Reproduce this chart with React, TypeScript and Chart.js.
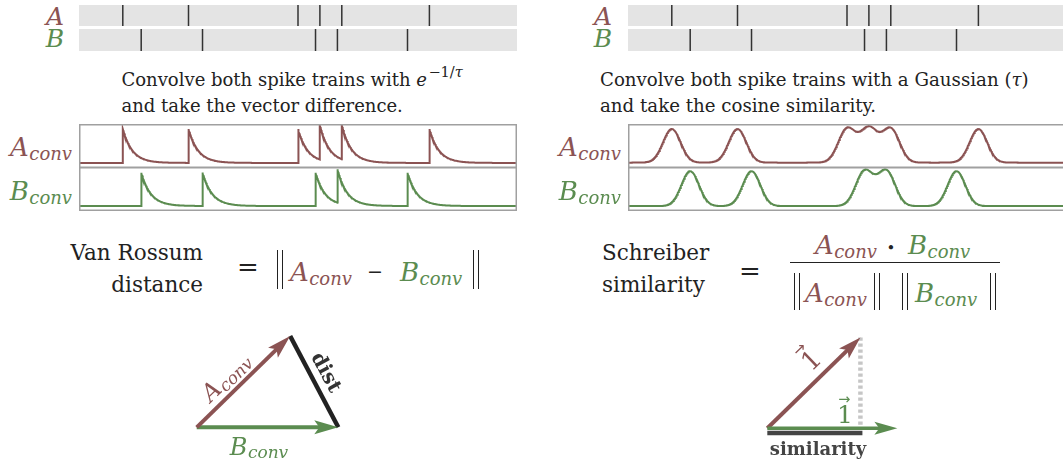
import React, { useEffect, useRef } from "react";
import { Chart, registerables } from "chart.js";

Chart.register(...registerables);

// ---------------- data ----------------
const timeRange = [0, 1000]; // ms shown in every spike / trace panel
const spikesA = [100, 250, 500, 550, 600, 800]; // ms
const spikesB = [142, 282, 540, 590, 750]; // ms
const expTau = [22]; // ms, exponential kernel time constant
const gaussSigma = [20]; // ms, Gaussian kernel width
const vectorOrigin = [0, 0];
const vanRossumA = [0.66, 0.645];
const vanRossumB = [1, 0];
const schreiberA = [0.716, 0.698];
const schreiberB = [1, 0];

// ---------------- styles ----------------
const COLOR_A = "#8b5353";
const COLOR_B = "#5b8c50";
const INK = "#222";
const SERIF = '"DejaVu Serif", serif';
const BASE = 0.846; // baseline offset (em) for line-height = font-size

// ---------------- series builders ----------------
function spikeSeries(spikes: number[]) {
  return spikes.flatMap((t) => [
    { x: t, y: 0 },
    { x: t, y: 1 },
    { x: t, y: null },
  ]);
}

function expTrace(spikes: number[], tau: number) {
  const val = (t: number, incl: boolean) =>
    spikes.reduce(
      (s, sp) => (sp < t || (incl && sp === t) ? s + Math.exp(-(t - sp) / tau) : s),
      0
    );
  const xs = new Set<number>();
  for (let t = timeRange[0]; t <= timeRange[1]; t += 1) xs.add(t);
  spikes.forEach((s) => xs.add(s));
  const sorted = Array.from(xs).sort((a, b) => a - b);
  const pts: any[] = [];
  for (const t of sorted) {
    if (spikes.includes(t)) {
      pts.push({ x: t, y: val(t, false) });
      pts.push({ x: t, y: val(t, true) });
    } else pts.push({ x: t, y: val(t, true) });
  }
  return pts;
}

function gaussTrace(spikes: number[], sigma: number) {
  const pts: any[] = [];
  for (let t = timeRange[0]; t <= timeRange[1]; t += 1) {
    const y = spikes.reduce((s, sp) => s + Math.exp(-((t - sp) ** 2) / (2 * sigma * sigma)), 0);
    pts.push({ x: t, y });
  }
  return pts;
}

// ---------------- chart configs ----------------
function baseOpts(xr: number[], yr: number[]) {
  return {
    responsive: false,
    maintainAspectRatio: false,
    animation: false,
    devicePixelRatio: 1,
    events: [],
    layout: { padding: 0 },
    plugins: { legend: { display: false }, tooltip: { enabled: false }, title: { display: false } },
    scales: {
      x: { type: "linear", min: xr[0], max: xr[1], display: false },
      y: { type: "linear", min: yr[0], max: yr[1], display: false },
    },
    elements: { point: { radius: 0, hoverRadius: 0 }, line: { tension: 0 } },
  };
}

const bgPlugin = {
  id: "bg",
  beforeDatasetsDraw(chart: any) {
    const { ctx, chartArea: a } = chart;
    ctx.save();
    ctx.fillStyle = "#e4e4e4";
    ctx.fillRect(a.left, a.top, a.right - a.left, a.bottom - a.top);
    ctx.restore();
  },
};

const framePlugin = {
  id: "frame",
  afterDatasetsDraw(chart: any) {
    const { ctx, chartArea: a } = chart;
    ctx.save();
    ctx.strokeStyle = "#a0a0a0";
    ctx.lineWidth = 1.5;
    ctx.strokeRect(a.left + 0.75, a.top + 0.75, a.right - a.left - 1.5, a.bottom - a.top - 1.5);
    ctx.restore();
  },
};

const arrowPlugin = {
  id: "arrows",
  afterDatasetsDraw(chart: any) {
    const { ctx } = chart;
    const xs = chart.scales.x;
    const ys = chart.scales.y;
    chart.data.datasets.forEach((ds: any) => {
      if (!ds.arrow) return;
      const [p0, p1] = ds.data;
      const x0 = xs.getPixelForValue(p0.x);
      const y0 = ys.getPixelForValue(p0.y);
      const x1 = xs.getPixelForValue(p1.x);
      const y1 = ys.getPixelForValue(p1.y);
      const len = Math.hypot(x1 - x0, y1 - y0);
      const ux = (x1 - x0) / len;
      const uy = (y1 - y0) / len;
      const px = -uy;
      const py = ux;
      const { color, lineWidth, length: L, width: W, notch: N } = ds.arrow;
      ctx.save();
      ctx.strokeStyle = color;
      ctx.fillStyle = color;
      ctx.lineWidth = lineWidth;
      ctx.lineCap = "butt";
      ctx.beginPath();
      ctx.moveTo(x0, y0);
      ctx.lineTo(x1 - ux * (L - N - 1), y1 - uy * (L - N - 1));
      ctx.stroke();
      ctx.beginPath();
      ctx.moveTo(x1, y1);
      ctx.lineTo(x1 - ux * L + px * W, y1 - uy * L + py * W);
      ctx.lineTo(x1 - ux * (L - N), y1 - uy * (L - N));
      ctx.lineTo(x1 - ux * L - px * W, y1 - uy * L - py * W);
      ctx.closePath();
      ctx.fill();
      ctx.restore();
    });
  },
};

// projection of A on B (dashed drop line + dark similarity bar)
const projectionPlugin = {
  id: "projection",
  beforeDatasetsDraw(chart: any) {
    const { ctx } = chart;
    const xs = chart.scales.x;
    const ys = chart.scales.y;
    const proj = schreiberA[0] * schreiberB[0] + schreiberA[1] * schreiberB[1];
    const xp = xs.getPixelForValue(proj);
    const y0 = ys.getPixelForValue(vectorOrigin[1]);
    const yTop = ys.getPixelForValue(schreiberA[1]);
    ctx.save();
    // dashed drop line
    ctx.strokeStyle = "#c6c6c6";
    ctx.lineWidth = 4.5;
    ctx.lineCap = "butt";
    ctx.setLineDash([3.2, 2.8]);
    ctx.beginPath();
    ctx.moveTo(xp, yTop);
    ctx.lineTo(xp, y0);
    ctx.stroke();
    ctx.setLineDash([]);
    // similarity bar
    const xa = xs.getPixelForValue(vectorOrigin[0]);
    ctx.strokeStyle = "#444";
    ctx.lineWidth = 4.6;
    ctx.beginPath();
    ctx.moveTo(xa, y0 + 4.7);
    ctx.lineTo(xp + 2, y0 + 4.7);
    ctx.stroke();
    ctx.restore();
  },
};

function spikeChart(spikes: number[]) {
  return {
    type: "line",
    data: {
      datasets: [
        { data: spikeSeries(spikes), borderColor: "#333", borderWidth: 1.5, pointRadius: 0, spanGaps: false },
      ],
    },
    options: baseOpts(timeRange, [0, 1]),
    plugins: [bgPlugin],
  };
}

function traceChart(points: any[], color: string, yr: number[]) {
  return {
    type: "line",
    data: { datasets: [{ data: points, borderColor: color, borderWidth: 2, pointRadius: 0 }] },
    options: baseOpts(timeRange, yr),
    plugins: [framePlugin],
  };
}

const pt = (v: number[]) => ({ x: v[0], y: v[1] });

function vanRossumChart() {
  return {
    type: "scatter",
    data: {
      datasets: [
        {
          label: "dist",
          data: [pt(vanRossumA), pt(vanRossumB)],
          showLine: true,
          borderColor: "#222",
          borderWidth: 4.5,
          pointRadius: 0,
        },
        {
          label: "B",
          data: [pt(vectorOrigin), pt(vanRossumB)],
          showLine: false,
          pointRadius: 0,
          arrow: { color: COLOR_B, lineWidth: 4, length: 24, width: 7, notch: 5 },
        },
        {
          label: "A",
          data: [pt(vectorOrigin), pt(vanRossumA)],
          showLine: false,
          pointRadius: 0,
          arrow: { color: COLOR_A, lineWidth: 4, length: 24, width: 7, notch: 5 },
        },
      ],
    },
    options: baseOpts([-0.33, 1.436], [-0.252, 0.758]),
    plugins: [arrowPlugin],
  };
}

function schreiberChart() {
  return {
    type: "scatter",
    data: {
      datasets: [
        {
          label: "A",
          data: [pt(vectorOrigin), pt(schreiberA)],
          showLine: false,
          pointRadius: 0,
          arrow: { color: COLOR_A, lineWidth: 4, length: 23, width: 7, notch: 5 },
        },
        {
          label: "B",
          data: [pt(vectorOrigin), pt(schreiberB)],
          showLine: false,
          pointRadius: 0,
          arrow: { color: COLOR_B, lineWidth: 3.5, length: 23, width: 6.5, notch: 5 },
        },
      ],
    },
    options: baseOpts([-0.21, 1.328], [-0.267, 0.833]),
    plugins: [projectionPlugin, arrowPlugin],
  };
}

// ---------------- components ----------------
function ChartCanvas({ left, top, width, height, make }: any) {
  const ref = useRef<HTMLCanvasElement | null>(null);
  useEffect(() => {
    if (!ref.current) return;
    const chart = new Chart(ref.current, make());
    return () => chart.destroy();
  }, []);
  return (
    <canvas
      ref={ref}
      width={width}
      height={height}
      style={{ position: "absolute", left, top, width, height, display: "block" }}
    />
  );
}

function Txt({ x, y, size, align = "left", color = INK, italic = false, bold = false, family = SERIF, children }: any) {
  const transform = align === "right" ? "translateX(-100%)" : align === "center" ? "translateX(-50%)" : undefined;
  return (
    <div
      style={{
        position: "absolute",
        left: x,
        top: y - BASE * size,
        fontSize: size,
        lineHeight: `${size}px`,
        fontFamily: family,
        fontStyle: italic ? "italic" : "normal",
        fontWeight: bold ? "bold" : "normal",
        whiteSpace: "nowrap",
        color,
        transform,
      }}
    >
      {children}
    </div>
  );
}

function Rot({ cx, cy, angle, size, color = INK, bold = false, children }: any) {
  return (
    <div
      style={{
        position: "absolute",
        left: cx,
        top: cy,
        fontSize: size,
        lineHeight: `${size}px`,
        fontFamily: SERIF,
        fontWeight: bold ? "bold" : "normal",
        whiteSpace: "nowrap",
        color,
        transform: `translate(-50%, -50%) rotate(${angle}deg)`,
      }}
    >
      {children}
    </div>
  );
}

function Sym({ b, s, color, sub = 18, drop = 3.5 }: any) {
  return (
    <span style={{ color, fontStyle: "italic" }}>
      {b}
      <span style={{ fontSize: sub, lineHeight: `${sub}px`, position: "relative", top: drop, marginLeft: 0.5 }}>{s}</span>
    </span>
  );
}

function Sup({ children }: any) {
  return <span style={{ fontSize: 14.5, lineHeight: "14.5px", position: "relative", top: -9, marginLeft: 1.5 }}>{children}</span>;
}

function Vec1({ size, color }: any) {
  return (
    <span style={{ position: "relative", display: "inline-block", color, lineHeight: `${size}px` }}>
      1
      <span
        style={{
          position: "absolute",
          left: 0.05 * size,
          top: -0.4 * size,
          fontSize: 0.58 * size,
          lineHeight: `${0.58 * size}px`,
          fontFamily: '"DejaVu Sans", sans-serif',
        }}
      >
        →
      </span>
    </span>
  );
}

function Norm({ x, top, h }: any) {
  return (
    <div
      style={{
        position: "absolute",
        left: x,
        top,
        width: 3.6,
        height: h,
        borderLeft: `1.4px solid ${INK}`,
        borderRight: `1.4px solid ${INK}`,
      }}
    />
  );
}

export default function App() {
  useEffect(() => {
    document.body.style.margin = "0";
  }, []);
  const tau = expTau[0];
  const sigma = gaussSigma[0];
  return (
    <div
      style={{
        position: "absolute",
        left: 0,
        top: 0,
        width: 1063,
        height: 463,
        overflow: "hidden",
        background: "#fff",
        fontFamily: SERIF,
      }}
    >
      {/* ---------- left: Van Rossum ---------- */}
      <Txt x={64} y={25} size={25} align="right" italic color={COLOR_A}>A</Txt>
      <Txt x={64} y={47.5} size={25} align="right" italic color={COLOR_B}>B</Txt>
      <ChartCanvas left={79} top={5} width={438} height={21} make={() => spikeChart(spikesA)} />
      <ChartCanvas left={79} top={29} width={438} height={22} make={() => spikeChart(spikesB)} />

      <Txt x={121.5} y={86.5} size={18}>
        Convolve both spike trains with <i>e</i>
        <Sup>
          −1/<i>τ</i>
        </Sup>
      </Txt>
      <Txt x={121.5} y={112} size={18}>and take the vector difference.</Txt>

      <Txt x={72} y={156} size={26} align="right">
        <Sym b="A" s="conv" color={COLOR_A} />
      </Txt>
      <Txt x={72} y={200} size={26} align="right">
        <Sym b="B" s="conv" color={COLOR_B} />
      </Txt>
      <ChartCanvas left={79} top={124} width={438} height={44} make={() => traceChart(expTrace(spikesA, tau), COLOR_A, [-0.15, 1.15])} />
      <ChartCanvas left={79} top={167} width={438} height={44} make={() => traceChart(expTrace(spikesB, tau), COLOR_B, [-0.15, 1.17])} />

      <Txt x={203} y={260.5} size={21.5} align="right">Van Rossum</Txt>
      <Txt x={203} y={292.5} size={21.5} align="right">distance</Txt>
      <Txt x={248} y={276} size={26} align="center">=</Txt>
      <Norm x={277} top={250} h={39} />
      <Txt x={290} y={281} size={26}>
        <Sym b="A" s="conv" color={COLOR_A} />
      </Txt>
      <Txt x={375} y={278} size={19} align="center">−</Txt>
      <Txt x={400} y={281} size={26}>
        <Sym b="B" s="conv" color={COLOR_B} />
      </Txt>
      <Norm x={473} top={250} h={39} />

      <ChartCanvas left={150} top={320} width={250} height={143} make={vanRossumChart} />
      <Rot cx={226} cy={377} angle={-44.4} size={24} color={COLOR_A}>
        <Sym b="A" s="conv" color={COLOR_A} sub={17} drop={3} />
      </Rot>
      <Rot cx={327} cy={372} angle={61.6} size={20} bold color="#333">dist</Rot>
      <Txt x={259} y={455} size={24} align="center">
        <Sym b="B" s="conv" color={COLOR_B} sub={17} drop={3} />
      </Txt>

      {/* ---------- right: Schreiber ---------- */}
      <Txt x={612} y={25} size={25} align="right" italic color={COLOR_A}>A</Txt>
      <Txt x={612} y={47.5} size={25} align="right" italic color={COLOR_B}>B</Txt>
      <ChartCanvas left={628} top={5} width={438} height={21} make={() => spikeChart(spikesA)} />
      <ChartCanvas left={628} top={29} width={438} height={22} make={() => spikeChart(spikesB)} />

      <Txt x={600} y={86.5} size={18.2}>
        Convolve both spike trains with a Gaussian (<i>τ</i>)
      </Txt>
      <Txt x={600} y={112} size={18.2}>and take the cosine similarity.</Txt>

      <Txt x={621} y={156} size={26} align="right">
        <Sym b="A" s="conv" color={COLOR_A} />
      </Txt>
      <Txt x={621} y={200} size={26} align="right">
        <Sym b="B" s="conv" color={COLOR_B} />
      </Txt>
      <ChartCanvas left={628} top={124} width={438} height={44} make={() => traceChart(gaussTrace(spikesA, sigma), COLOR_A, [-0.16, 1.15])} />
      <ChartCanvas left={628} top={167} width={438} height={44} make={() => traceChart(gaussTrace(spikesB, sigma), COLOR_B, [-0.14, 1.12])} />

      <Txt x={602} y={260} size={21.5}>Schreiber</Txt>
      <Txt x={602} y={292} size={21.5}>similarity</Txt>
      <Txt x={750} y={280} size={26} align="center">=</Txt>
      <Txt x={815} y={254} size={26}>
        <Sym b="A" s="conv" color={COLOR_A} />
      </Txt>
      <Txt x={891} y={254} size={15} align="center">•</Txt>
      <Txt x={908} y={254} size={26}>
        <Sym b="B" s="conv" color={COLOR_B} />
      </Txt>
      <div style={{ position: "absolute", left: 790, top: 262, width: 210, height: 1.4, background: INK }} />
      <Norm x={794} top={273} h={37} />
      <Txt x={805} y={302} size={26}>
        <Sym b="A" s="conv" color={COLOR_A} />
      </Txt>
      <Norm x={874} top={273} h={37} />
      <Norm x={902} top={273} h={37} />
      <Txt x={915} y={302} size={26}>
        <Sym b="B" s="conv" color={COLOR_B} />
      </Txt>
      <Norm x={990} top={273} h={37} />

      <ChartCanvas left={740} top={320} width={200} height={143} make={schreiberChart} />
      <Rot cx={811} cy={360} angle={-44} size={26} color={COLOR_A}>
        <Vec1 size={26} color={COLOR_A} />
      </Rot>
      <Txt x={837} y={423} size={25}>
        <Vec1 size={25} color={COLOR_B} />
      </Txt>
      <Txt x={818} y={455} size={18} align="center" bold color="#444">similarity</Txt>
    </div>
  );
}
